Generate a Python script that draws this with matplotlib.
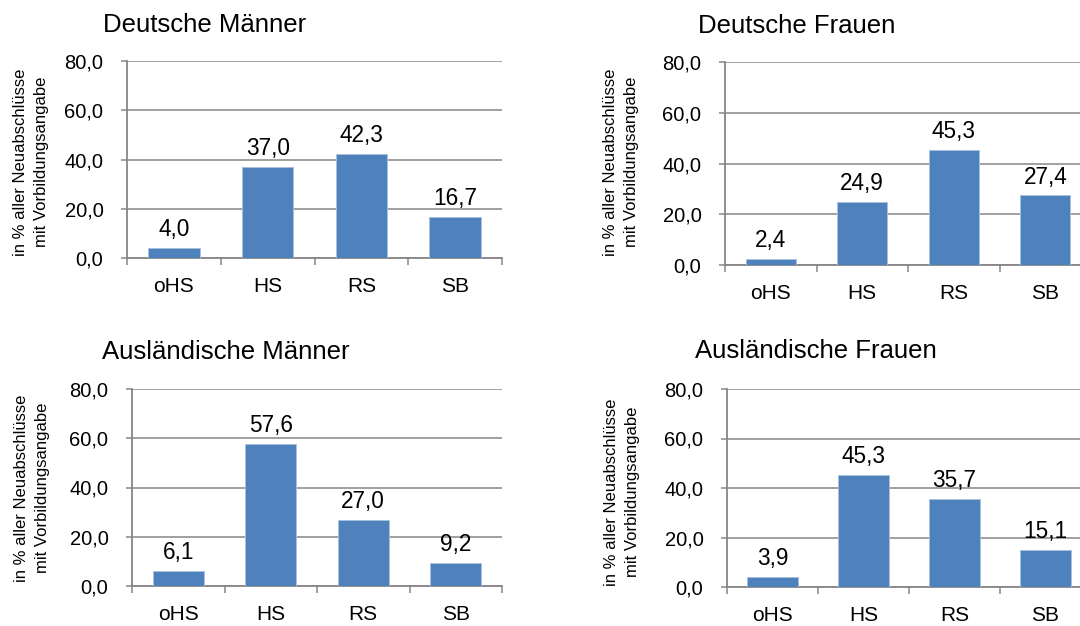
from matplotlib import pyplot as plt
import numpy as np

plt.rcParams['font.family'] = ['Liberation Sans', 'DejaVu Sans']

categories = ['oHS', 'HS', 'RS', 'SB']
deutsche_maenner = [4.0, 37.0, 42.3, 16.7]
deutsche_frauen = [2.4, 24.9, 45.3, 27.4]
auslaend_maenner = [6.1, 57.6, 27.0, 9.2]
auslaend_frauen = [3.9, 45.3, 35.7, 15.1]
titles = ['Deutsche Männer', 'Deutsche Frauen', 'Ausländische Männer', 'Ausländische Frauen']
ylabel = 'in % aller Neuabschlüsse\nmit Vorbildungsangabe'
yticks = [0, 20, 40, 60, 80]

W, H = 1080, 626
fig = plt.figure(figsize=(W / 100, H / 100), dpi=100)

def px_axes(left, top, right, bottom):
    return fig.add_axes([left / W, 1 - bottom / H, (right - left) / W, (bottom - top) / H])

# (left, top, right, bottom) in pixels, title pos, ylabel pos
panels = [
    (deutsche_maenner, (127, 61, 502, 258), (103, 25), (31, 162)),
    (deutsche_frauen, (725, 62, 1091, 265), (698, 26), (621, 162)),
    (auslaend_maenner, (132, 389, 502, 586), (102, 352), (32, 488)),
    (auslaend_frauen, (727, 389, 1091, 587), (695, 351), (622, 492)),
]

grid_col = '#868686'
bar_col = '#4f81bd'

for i, (vals, box, tpos, lpos) in enumerate(panels):
    ax = px_axes(*box)
    x = np.arange(len(categories))
    ax.bar(x, vals, width=0.55, color=bar_col, edgecolor='#a9c1de', linewidth=0.7, zorder=3)
    for xi, v in zip(x, vals):
        ax.annotate(f'{v:.1f}'.replace('.', ','), (xi, v), xytext=(0, 5),
                    textcoords='offset points', ha='center', va='bottom', fontsize=16.3)
    ax.set_xlim(-0.5, len(categories) - 0.5)
    ax.set_ylim(0, 80)
    ax.set_yticks(yticks)
    ax.set_yticklabels([f'{t:.1f}'.replace('.', ',') for t in yticks], fontsize=14.5)
    ax.yaxis.grid(True, color=grid_col, linewidth=1.1, zorder=0)
    ax.set_xticks(x)
    ax.set_xticklabels(categories, fontsize=15)
    ax.set_xticks(np.arange(-0.5, len(categories)), minor=True)
    ax.tick_params(axis='x', which='major', length=0, pad=14)
    ax.tick_params(axis='x', which='minor', length=5, color=grid_col, width=1.1)
    ax.tick_params(axis='y', length=4, color=grid_col, width=1.1, pad=13)
    for s in ['top', 'right']:
        ax.spines[s].set_visible(False)
    ax.spines['left'].set_color(grid_col)
    ax.spines['bottom'].set_color(grid_col)
    ax.spines['left'].set_linewidth(1.3)
    ax.spines['bottom'].set_linewidth(1.3)
    fig.text(tpos[0] / W, 1 - tpos[1] / H, titles[i], ha='left', va='center', fontsize=18.5)
    fig.text(lpos[0] / W, 1 - lpos[1] / H, ylabel, rotation=90, ha='center', va='center',
             fontsize=12, linespacing=1.5,
             family=['Liberation Sans Narrow', 'Liberation Sans'])

plt.savefig('out.png', dpi=100)
